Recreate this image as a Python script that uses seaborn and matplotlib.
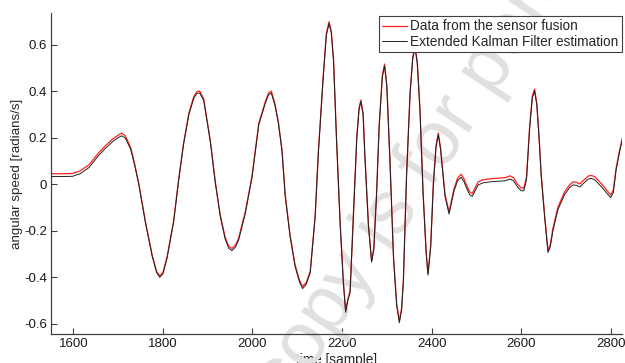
import matplotlib
matplotlib.use("Agg")

import matplotlib.pyplot as plt
import seaborn as sns
import pandas as pd

# ---------------------------------------------------------------------------
# Data
# ---------------------------------------------------------------------------
samples = [
    1550, 1575, 1598, 1615, 1635, 1657, 1672, 1687, 1700, 1708,
    1716, 1728, 1737, 1746, 1761, 1776, 1786, 1793, 1800, 1809,
    1824, 1835, 1846, 1858, 1869, 1876, 1882, 1891, 1906, 1917,
    1928, 1939, 1947, 1954, 1962, 1969, 1984, 1999, 2014, 2029,
    2036, 2042, 2050, 2058, 2066, 2073, 2084, 2095, 2105, 2112,
    2120, 2129, 2140, 2147, 2158, 2165, 2171, 2176, 2181, 2188,
    2196, 2203, 2208, 2213, 2218, 2225, 2233, 2238, 2242, 2247,
    2251, 2259, 2266, 2271, 2277, 2283, 2290, 2295, 2300, 2307,
    2315, 2322, 2328, 2333, 2337, 2344, 2352, 2358, 2363, 2368,
    2374, 2381, 2388, 2392, 2398, 2404, 2410, 2415, 2420, 2430,
    2439, 2450, 2458, 2466, 2472, 2479, 2485, 2491, 2498, 2504,
    2515, 2530, 2549, 2565, 2575, 2583, 2592, 2600, 2606, 2612,
    2619, 2625, 2630, 2635, 2640, 2645, 2653, 2660, 2665, 2671,
    2682, 2697, 2708, 2716, 2724, 2731, 2740, 2750, 2757, 2765,
    2779, 2792, 2800, 2806, 2812, 2820, 2827,
]

ekf_estimation = [
    0.033, 0.033, 0.034, 0.045, 0.072, 0.125, 0.155, 0.182, 0.200, 0.208,
    0.198, 0.150, 0.080, 0.000, -0.166, -0.309, -0.380, -0.400, -0.385, -0.320,
    -0.160, 0.015, 0.170, 0.300, 0.370, 0.390, 0.392, 0.360, 0.180, 0.005,
    -0.138, -0.235, -0.275, -0.285, -0.270, -0.240, -0.125, 0.030, 0.255, 0.350,
    0.385, 0.392, 0.340, 0.260, 0.140, -0.050, -0.225, -0.352, -0.420, -0.448,
    -0.430, -0.380, -0.140, 0.130, 0.460, 0.640, 0.690, 0.650, 0.530, 0.175,
    -0.180, -0.425, -0.550, -0.500, -0.465, -0.150, 0.200, 0.320, 0.355, 0.300,
    0.120, -0.180, -0.335, -0.280, -0.050, 0.250, 0.460, 0.508, 0.420, 0.100,
    -0.320, -0.520, -0.595, -0.540, -0.420, 0.030, 0.390, 0.540, 0.585, 0.520,
    0.320, -0.040, -0.300, -0.390, -0.270, 0.000, 0.160, 0.212, 0.150, -0.052,
    -0.128, -0.030, 0.015, 0.030, 0.012, -0.020, -0.045, -0.052, -0.025, -0.003,
    0.006, 0.010, 0.013, 0.015, 0.022, 0.015, -0.012, -0.028, -0.028, 0.020,
    0.240, 0.370, 0.400, 0.340, 0.200, 0.030, -0.152, -0.293, -0.270, -0.200,
    -0.110, -0.045, -0.015, -0.003, -0.005, -0.012, 0.005, 0.022, 0.025, 0.018,
    -0.010, -0.040, -0.058, -0.035, 0.060, 0.140, 0.200,
]

sensor_fusion = [
    0.045, 0.045, 0.046, 0.057, 0.084, 0.136, 0.166, 0.193, 0.211, 0.219,
    0.208, 0.158, 0.086, 0.004, -0.162, -0.305, -0.375, -0.393, -0.378, -0.314,
    -0.156, 0.019, 0.175, 0.306, 0.377, 0.398, 0.400, 0.367, 0.185, 0.010,
    -0.132, -0.228, -0.266, -0.276, -0.261, -0.232, -0.118, 0.036, 0.261, 0.357,
    0.392, 0.400, 0.347, 0.266, 0.146, -0.044, -0.219, -0.345, -0.412, -0.439,
    -0.422, -0.373, -0.134, 0.136, 0.466, 0.648, 0.698, 0.657, 0.536, 0.180,
    -0.175, -0.418, -0.542, -0.493, -0.458, -0.144, 0.206, 0.327, 0.362, 0.306,
    0.126, -0.174, -0.328, -0.273, -0.044, 0.256, 0.467, 0.516, 0.427, 0.106,
    -0.314, -0.513, -0.587, -0.533, -0.414, 0.036, 0.396, 0.547, 0.592, 0.527,
    0.326, -0.034, -0.294, -0.383, -0.263, 0.006, 0.167, 0.220, 0.157, -0.044,
    -0.118, -0.020, 0.026, 0.043, 0.025, -0.008, -0.033, -0.040, -0.012, 0.010,
    0.019, 0.023, 0.026, 0.028, 0.036, 0.028, 0.000, -0.016, -0.016, 0.030,
    0.248, 0.378, 0.409, 0.348, 0.207, 0.037, -0.145, -0.284, -0.260, -0.190,
    -0.099, -0.033, -0.003, 0.010, 0.008, 0.001, 0.018, 0.035, 0.038, 0.031,
    0.003, -0.028, -0.046, -0.024, 0.068, 0.147, 0.206,
]

x_ticks = [1600, 1800, 2000, 2200, 2400, 2600, 2800]
y_ticks = [-0.6, -0.4, -0.2, 0, 0.2, 0.4, 0.6]
y_tick_labels = ["-0.6", "-0.4", "-0.2", "0", "0.2", "0.4", "0.6"]

LABEL_SENSOR = "Data from the sensor fusion"
LABEL_EKF = "Extended Kalman Filter estimation"

# ---------------------------------------------------------------------------
# Style
# ---------------------------------------------------------------------------
sns.set_style("ticks")
plt.rcParams["font.family"] = ["Liberation Sans", "DejaVu Sans"]
plt.rcParams["font.size"] = 9

df = pd.DataFrame({
    "sample": samples,
    LABEL_SENSOR: sensor_fusion,
    LABEL_EKF: ekf_estimation,
})

fig = plt.figure(figsize=(6.25, 3.63), dpi=100)
ax = fig.add_axes([0.0816, 0.080, 0.9134, 0.884])

sns.lineplot(data=df, x="sample", y=LABEL_SENSOR, ax=ax, color="#ff2020",
             linewidth=0.9, label=LABEL_SENSOR, sort=False, estimator=None)
sns.lineplot(data=df, x="sample", y=LABEL_EKF, ax=ax, color="#202020",
             linewidth=0.7, label=LABEL_EKF, sort=False, estimator=None)

ax.set_xlim(1550, 2825)
ax.set_ylim(-0.643, 0.735)
ax.set_xticks(x_ticks)
ax.set_yticks(y_ticks)
ax.set_yticklabels(y_tick_labels)
ax.set_xlabel("time [sample]", fontsize=9.8, labelpad=2)
ax.set_ylabel("angular speed [radians/s]", fontsize=9.6, labelpad=1)

for side in ("top", "right"):
    ax.spines[side].set_visible(False)
for side in ("left", "bottom"):
    ax.spines[side].set_color("#404040")
    ax.spines[side].set_linewidth(0.9)
ax.tick_params(direction="in", length=4, width=0.8, color="#404040",
               labelsize=9.5, labelcolor="#1a1a1a", pad=3)

leg = ax.legend(loc="upper right", bbox_to_anchor=(1.0, 0.991),
                borderaxespad=0, fancybox=False, framealpha=1,
                edgecolor="#404040", fontsize=9.8, handlelength=1.8,
                handletextpad=0.25, labelspacing=0.12, borderpad=0.25)
leg.get_frame().set_linewidth(0.8)

# watermark over the picture
ax.text(0.461, -0.116, "copy is for personal use", transform=fig.transFigure,
        rotation=56.3, rotation_mode="anchor", ha="left", va="baseline",
        fontsize=55, color="#e0e0e0", zorder=1, clip_on=False)

fig.savefig("out.png", dpi=100)
plt.close(fig)
